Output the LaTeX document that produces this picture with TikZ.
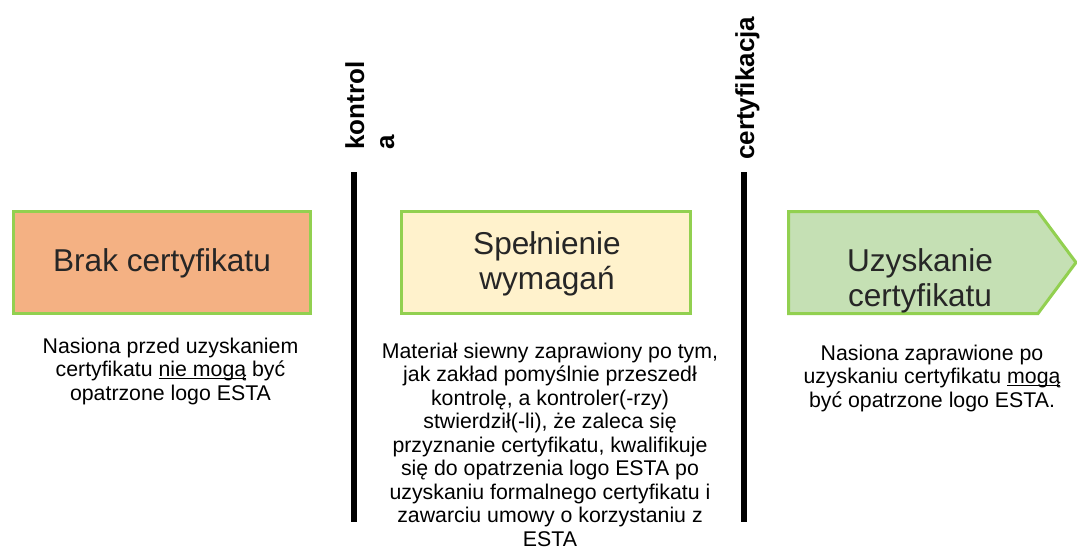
\documentclass[tikz,border=0pt]{standalone}
\usepackage{fontspec}
\setmainfont{Liberation Sans}
\definecolor{boxline}{HTML}{92D050}
\definecolor{fillorange}{HTML}{F4B183}
\definecolor{fillyellow}{HTML}{FFF2CC}
\definecolor{fillgreen}{HTML}{C5E0B4}
\definecolor{boxtext}{HTML}{262626}
\newcommand\myul[1]{\setbox0\hbox{#1}\rlap{\rule[-2.2pt]{\wd0}{1.3pt}}\box0\relax}
\begin{document}
\begin{tikzpicture}[x=1pt,y=-1pt,
  stagebox/.style={draw=boxline, line width=3pt, inner sep=0pt, text=boxtext,
    font=\fontsize{31.6}{35}\selectfont, align=center},
  stagetext/.style={inner sep=0pt, text=boxtext, font=\fontsize{31.6}{35}\selectfont, align=center},
  bodytext/.style={inner sep=0pt, anchor=north, align=center, font=\fontsize{21.3}{23.5}\selectfont},
  gatelabel/.style={inner sep=0pt, rotate=90, anchor=north west, align=left,
    font=\fontsize{26}{30}\selectfont\bfseries},
  gateline/.style={line width=6pt, draw=black}]
\useasboundingbox (0,0) rectangle (1077,551);

% stage boxes
\node[stagebox, fill=fillorange, minimum width=297pt, minimum height=102pt] (b1) at (162,262.5) {};
\node[stagetext] (b1t) at (162,263) {Brak certyfikatu};
\node[stagebox, fill=fillyellow, minimum width=289pt, minimum height=102pt] (b2) at (546,262.5) {};
\node[stagetext] (b2t) at (547,264) {Spełnienie\\wymagań};
\draw[draw=boxline, line width=3pt, fill=fillgreen, line join=miter]
  (788.5,211.5) -- (1038,211.5) -- (1076,262.5) -- (1038,313.5) -- (788.5,313.5) -- cycle;
\node[stagetext] (b3t) at (920,281) {Uzyskanie\\certyfikatu};

% gates
\coordinate (l1a) at (354,172);
\coordinate (l1b) at (354,522);
\draw[gateline] (l1a) -- (l1b);
\coordinate (l2a) at (744,172);
\coordinate (l2b) at (744,522);
\draw[gateline] (l2a) -- (l2b);
\node[gatelabel] (g1) at (345,150) {kontrol\\a};
\node[gatelabel] (g2) at (735,160) {certyfikacja};

% descriptions
\node[bodytext] (t1) at (170.5,337.5) {Nasiona przed uzyskaniem\\certyfikatu \myul{nie mogą} być\\opatrzone logo ESTA};
\node[bodytext] (t2) at (550,342.5) {Materiał siewny zaprawiony po tym,\\jak zakład pomyślnie przeszedł\\kontrolę, a kontroler(-rzy)\\stwierdził(-li), że zaleca się\\przyznanie certyfikatu, kwalifikuje\\się do opatrzenia logo ESTA po\\uzyskaniu formalnego certyfikatu i\\zawarciu umowy o korzystaniu z\\ESTA};
\node[bodytext] (t3) at (932,344.5) {Nasiona zaprawione po\\uzyskaniu certyfikatu \myul{mogą}\\być opatrzone logo ESTA.};
\end{tikzpicture}
\end{document}
